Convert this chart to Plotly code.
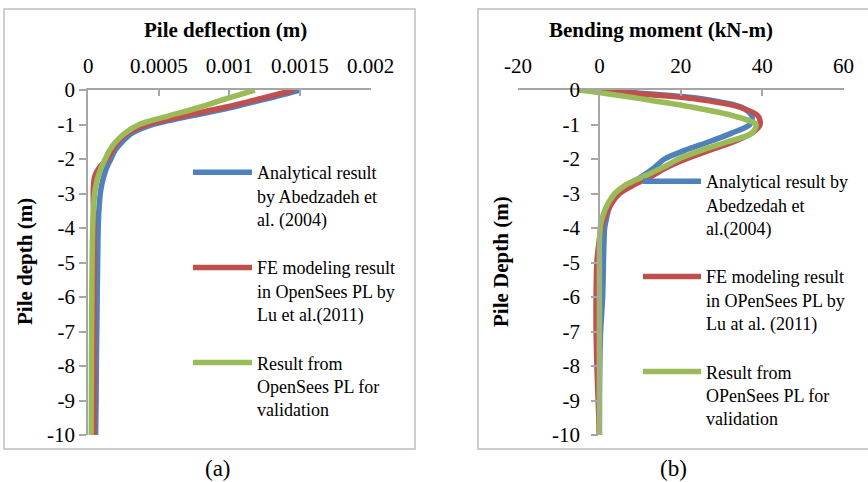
import plotly.graph_objects as go

W, H = 868, 482

# ---------------- data: panel (a) pile deflection ----------------
depth_a = [0, -0.25, -0.5, -0.75, -1, -1.25, -1.5, -1.75, -2, -2.25, -2.5, -2.75,
           -3, -3.5, -4, -5, -6, -7, -8, -9, -10]
defl_analytical = [0.00150, 0.00127, 0.00102, 0.00073, 0.00046, 0.00031, 0.00024, 0.00019,
                   0.000160, 0.000130, 0.000110, 0.000095, 0.000085, 0.000075, 0.000070,
                   0.000066, 0.000063, 0.000060, 0.000057, 0.000055, 0.000052]
defl_lu = [0.00146, 0.00122, 0.00097, 0.00068, 0.00042, 0.00028, 0.00021, 0.00017,
           0.000135, 0.000078, 0.000046, 0.000037, 0.000035, 0.000037, 0.000039,
           0.000040, 0.000040, 0.000040, 0.000040, 0.000040, 0.000040]
defl_valid = [0.00118, 0.00098, 0.00079, 0.00057, 0.00036, 0.00026, 0.000195, 0.00015,
              0.00012, 0.000092, 0.000070, 0.000055, 0.000045, 0.000036, 0.000031,
              0.000027, 0.000025, 0.000023, 0.000022, 0.000021, 0.000020]

# ---------------- data: panel (b) bending moment ----------------
depth_b = [0, -0.1, -0.25, -0.5, -0.75, -1, -1.25, -1.5, -1.75, -2, -2.25, -2.5, -2.75,
           -3, -3.25, -3.5, -3.75, -4, -4.5, -5, -6, -7, -8, -9, -10]
mom_analytical = [-1, 11, 25, 35, 37.5, 37, 32.5, 27, 21, 16, 13.5, 10.5, 7, 4.5, 3.0, 2.2,
                  1.7, 1.3, 1.1, 1.0, 0.8, 0.3, 0.1, 0, 0]
mom_lu = [-1.5, 9, 23, 34.5, 39, 39.5, 37.5, 33, 27, 21.3, 16.5, 12.8, 8.5, 5.0, 3.2, 2.0,
          1.1, 0.5, -0.2, -0.6, -0.8, -0.8, -0.6, -0.3, 0]
mom_valid = [-5, 1.5, 10, 23, 33, 38.5, 37.5, 31.5, 25, 19.5, 15.5, 11, 6.5, 3.8, 2.3, 1.3,
             0.6, 0.2, 0, 0, 0, 0, 0, 0, 0]

names_a = ["Analytical result<br>by Abedzadeh et<br>al. (2004)",
           "FE modeling result<br>in OpenSees PL by<br>Lu et al.(2011)",
           "Result from<br>OpenSees PL for<br>validation"]
names_b = ["Analytical result by<br>Abedzedah et<br>al.(2004)",
           "FE modeling result<br>in OPenSees PL by<br>Lu at al. (2011)",
           "Result from<br>OPenSees PL for<br>validation"]
colors = ["#4F81BD", "#C0504D", "#9BBB59"]

xticks_a = [0, 0.0005, 0.001, 0.0015, 0.002]
xtext_a = ["0", "0.0005", "0.001", "0.0015", "0.002"]
xticks_b = [-20, 0, 20, 40, 60]
xtext_b = ["-20", "0", "20", "40", "60"]
yticks = [0, -1, -2, -3, -4, -5, -6, -7, -8, -9, -10]
ytext = ["0", "-1", "-2", "-3", "-4", "-5", "-6", "-7", "-8", "-9", "-10"]

FONT = "Liberation Serif, Times New Roman, serif"
AXC = "#A6A6A6"

fig = go.Figure()
for i, xs in enumerate([defl_analytical, defl_lu, defl_valid]):
    fig.add_trace(go.Scatter(x=xs, y=depth_a, mode="lines", name=names_a[i],
                             line=dict(color=colors[i], width=5.5, shape="spline", smoothing=0.8),
                             xaxis="x", yaxis="y", legend="legend", legendgroup="a%d" % i))
for i, xs in enumerate([mom_analytical, mom_lu, mom_valid]):
    fig.add_trace(go.Scatter(x=xs, y=depth_b, mode="lines", name=names_b[i],
                             line=dict(color=colors[i], width=5.5, shape="spline", smoothing=0.8),
                             xaxis="x2", yaxis="y2", legend="legend2", legendgroup="b%d" % i))

def px(x):
    return x / W

def py(y):
    return 1 - y / H

ydom = [py(435), py(90)]
common_x = dict(side="top", showgrid=False, zeroline=False, showline=True, linecolor=AXC,
                linewidth=2, ticks="inside", ticklen=6, tickwidth=2, tickcolor=AXC,
                tickfont=dict(family=FONT, size=21, color="black"), tickmode="array",
                automargin=False)
common_y = dict(showgrid=False, zeroline=False, showline=True, linecolor=AXC, linewidth=2,
                ticks="outside", ticklen=7, tickwidth=2, tickcolor=AXC, range=[-10, 0],
                tickfont=dict(family=FONT, size=21, color="black"), tickmode="array",
                tickvals=yticks, ticktext=ytext, domain=ydom, automargin=False)

def ann(text, x, y, size, angle=0):
    return dict(text=text, x=px(x), y=py(y), xref="paper", yref="paper", showarrow=False,
                xanchor="center", yanchor="middle", textangle=angle,
                font=dict(family=FONT, size=size, color="black"))

fig.update_layout(
    template="none",
    width=W, height=H, margin=dict(l=0, r=0, t=0, b=0, autoexpand=False),
    paper_bgcolor="white", plot_bgcolor="white",
    xaxis=dict(common_x, domain=[px(88.3), px(370.5)], range=[0, 0.002], anchor="y",
               tickvals=xticks_a, ticktext=xtext_a, ticklabelstandoff=7),
    yaxis=dict(common_y, anchor="x", ticklabelstandoff=0),
    xaxis2=dict(common_x, domain=[px(518), px(843.5)], range=[-20, 60], anchor="y2",
                tickvals=xticks_b, ticktext=xtext_b, ticklabelstandoff=7),
    yaxis2=dict(common_y, anchor="free", position=px(599.3), ticklabelstandoff=7),
    legend=dict(x=px(188), y=py(154), xanchor="left", yanchor="top", valign="top",
                itemwidth=59, tracegroupgap=22, bgcolor="rgba(0,0,0,0)",
                font=dict(family=FONT, size=18, color="black")),
    legend2=dict(x=px(638), y=py(163), xanchor="left", yanchor="top", valign="top",
                 itemwidth=58, tracegroupgap=22, bgcolor="rgba(0,0,0,0)",
                 font=dict(family=FONT, size=18, color="black")),
    shapes=[
        dict(type="rect", xref="paper", yref="paper", x0=px(4), x1=px(415), y0=py(449), y1=py(9),
             line=dict(color="#BFBFBF", width=1.5), layer="below"),
        dict(type="rect", xref="paper", yref="paper", x0=px(478), x1=px(880), y0=py(449), y1=py(9),
             line=dict(color="#BFBFBF", width=1.5), layer="below"),
    ],
    annotations=[
        ann("<b>Pile deflection (m)</b>", 226, 30, 21),
        ann("<b>Bending moment (kN-m)</b>", 661, 30, 21),
        ann("<b>Pile depth (m)</b>", 25, 262, 21, -90),
        ann("<b>Pile Depth (m)</b>", 501, 262, 21, -90),
        ann("(a)", 218, 468, 23),
        ann("(b)", 673, 468, 23),
    ],
)

fig.write_html("out.html")
